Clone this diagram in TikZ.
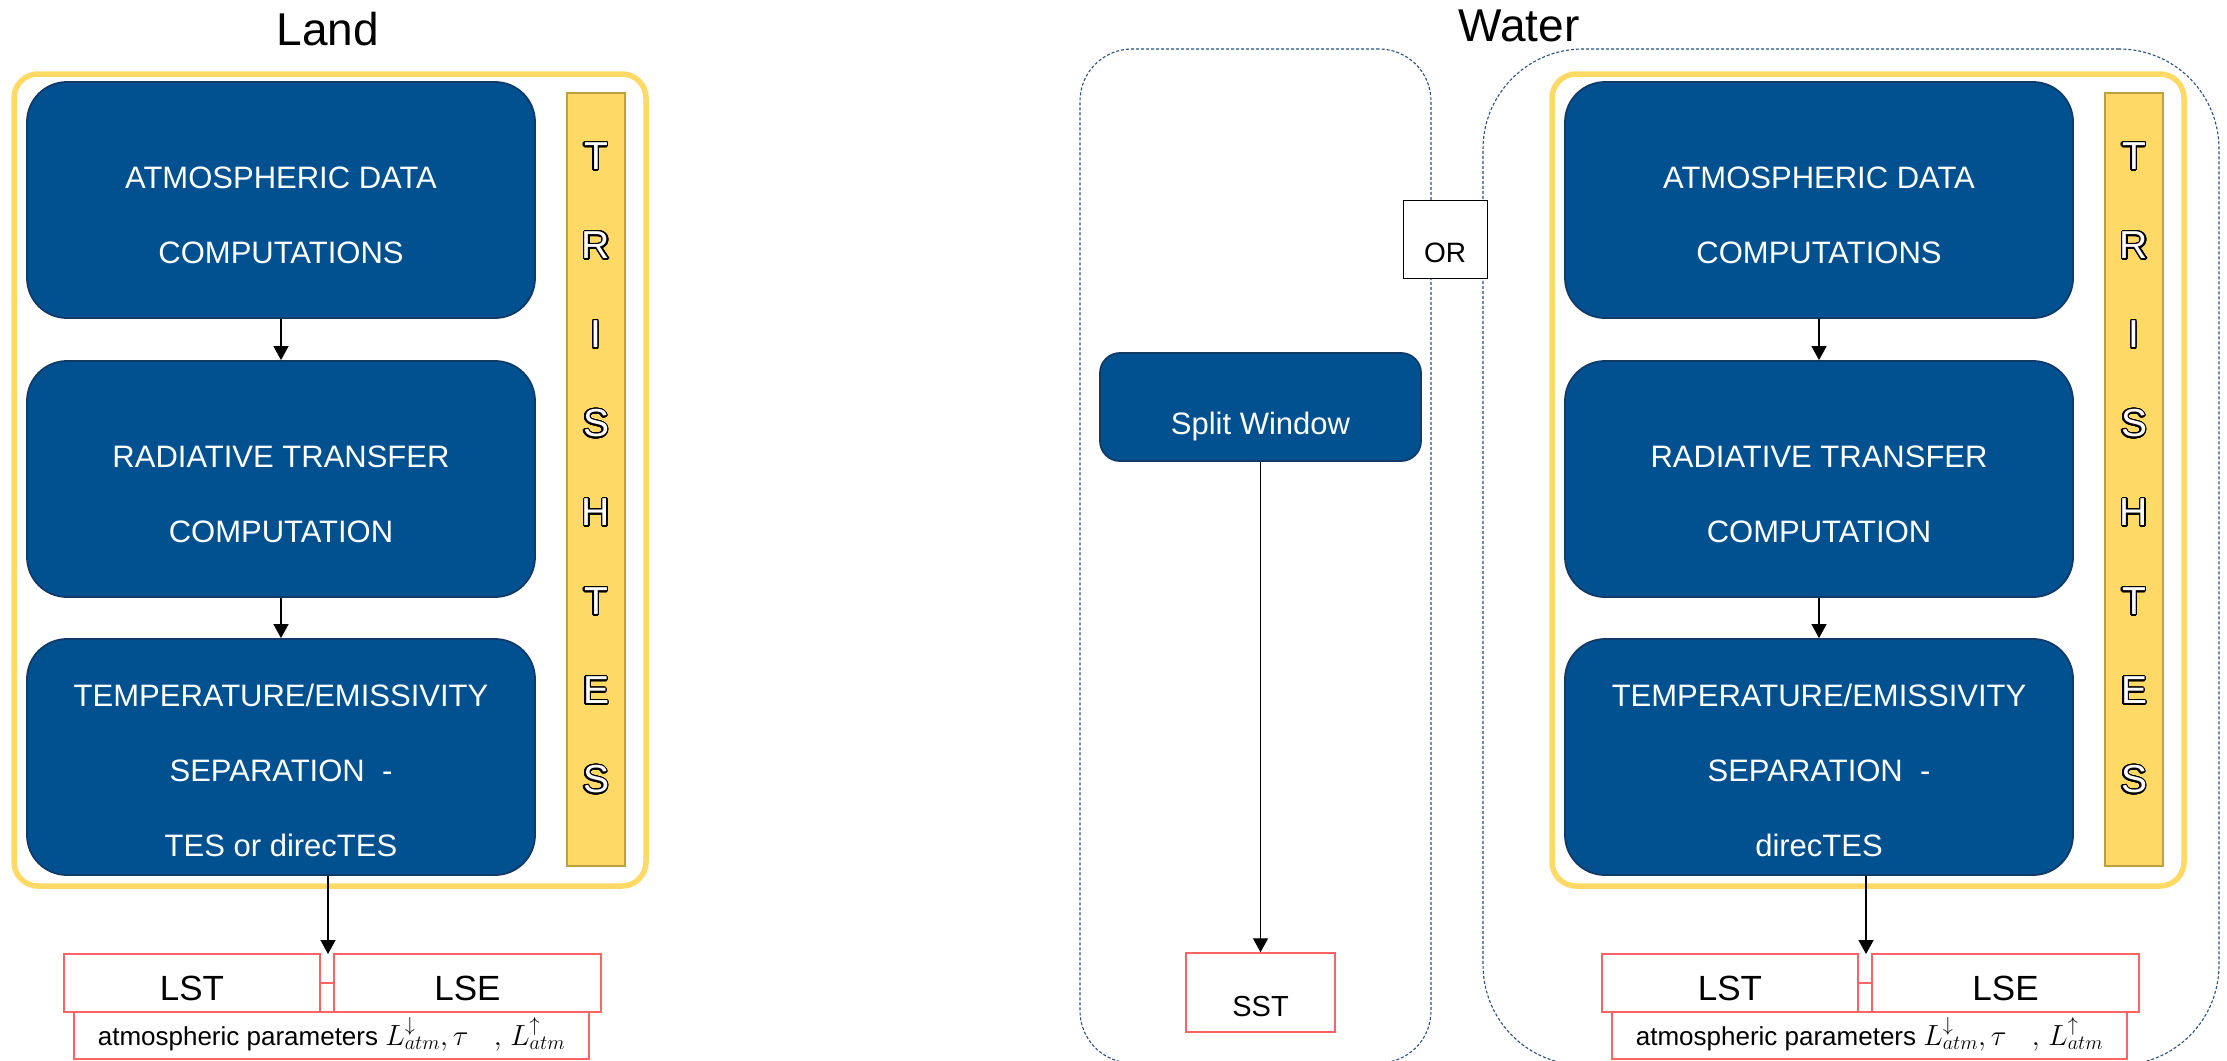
\documentclass[tikz,border=0pt]{standalone}
\usepackage{graphicx}
\usepackage{fontspec}
\setmainfont{Liberation Sans}
\usepackage{contour}
\contourlength{1.3pt}
\contournumber{24}
\usetikzlibrary{arrows.meta}
\definecolor{boxblue}{RGB}{1,81,145}
\definecolor{boxedge}{RGB}{18,58,105}
\definecolor{ylw}{RGB}{255,217,102}
\definecolor{ylwedge}{RGB}{191,160,64}
\definecolor{redl}{RGB}{255,99,99}
\definecolor{dashblue}{RGB}{40,80,130}
\newcommand{\olt}[1]{\contour{black}{#1}}
\newcommand{\atmpar}{atmospheric parameters \scalebox{1.17}{$L^{\downarrow}_{atm}, \tau\ \ \ {,}\ L^{\uparrow}_{atm}$}}
\begin{document}
\begin{tikzpicture}[x=1pt,y=-1pt,
  bluebox/.style={draw=boxedge, line width=1.8pt, fill=boxblue, rounded corners=40pt, minimum width=508pt, minimum height=236pt, inner sep=0pt},
  boxtext/.style={text=white, align=center, font=\fontsize{31}{75}\selectfont, inner sep=0pt},
  ybox/.style={draw=ylw, line width=5.5pt, rounded corners=24pt, minimum width=632pt, minimum height=812pt, inner sep=0pt},
  trishbar/.style={draw=ylwedge, line width=2.5pt, fill=ylw, minimum width=58pt, minimum height=773pt, inner sep=0pt},
  trishtext/.style={text=white, align=center, font=\fontsize{39}{89}\selectfont, inner sep=0pt},
  arr/.style={draw=black, line width=1.3pt, -{Triangle[width=15pt,length=14pt]}},
  redbox/.style={draw=redl, line width=1.5pt, fill=white, inner sep=0pt},
  redline/.style={draw=redl, line width=1.5pt},
  dashbox/.style={draw=dashblue, line width=1.1pt, dash pattern=on 3pt off 2pt, inner sep=0pt},
  title/.style={font=\fontsize{46}{55}\selectfont, inner sep=0pt, anchor=base},
  smallbox/.style={draw=boxedge, line width=1.8pt, fill=boxblue, rounded corners=20pt, inner sep=0pt, text=white},
]
\useasboundingbox (0,0) rectangle (2227,1060);

% titles
\node[title] (landt) at (328,45) {Land};
\node[title] (watert) at (1519,41) {Water};

% dashed water containers
\node[dashbox, rounded corners=52pt, minimum width=351pt, minimum height=1014pt] (wleft) at (1255.5,556) {};
\node[dashbox, rounded corners=100pt, minimum width=736pt, minimum height=1016pt] (wright) at (1851,557) {};
\node[draw=black, line width=1pt, fill=white, minimum width=84pt, minimum height=78pt, inner sep=0pt,
      font=\fontsize{28}{32}\selectfont, text height=46pt, text depth=0pt] (or) at (1445,239) {OR};

% ---------- Land ----------
\node[ybox] (lyel) at (330,480) {};
\node[bluebox] (lb1) at (281,200) {};
\node[bluebox] (lb2) at (281,479) {};
\node[bluebox] (lb3) at (281,757) {};
\node[boxtext] (lt1) at (281,215) {ATMOSPHERIC DATA\\COMPUTATIONS};
\node[boxtext] (lt2) at (281,494) {RADIATIVE TRANSFER\\COMPUTATION};
\node[boxtext] (lt3) at (281,770) {TEMPERATURE/EMISSIVITY\\SEPARATION\ \ -\\TES or direcTES};
\node[trishbar] (lbar) at (596,479.5) {};
\node[trishtext] (ltr) at (596,468.8) {\olt{T}\\\olt{R}\\\olt{I}\\\olt{S}\\\olt{H}\\\olt{T}\\\olt{E}\\\olt{S}};
\draw[arr] (lb1.south) -- (lb2.north);
\draw[arr] (lb2.south) -- (lb3.north);

\node[redbox, minimum width=515pt, minimum height=47pt, font=\fontsize{26}{30}\selectfont, text height=19pt, text depth=0pt] (lpar) at (331.5,1035.5) {\atmpar};
\node[redbox, minimum width=256pt, minimum height=58pt, font=\fontsize{35}{40}\selectfont, text height=34pt, text depth=0pt] (llst) at (192,983) {LST};
\node[redbox, minimum width=267pt, minimum height=58pt, font=\fontsize{35}{40}\selectfont, text height=34pt, text depth=0pt] (llse) at (467.5,983) {LSE};
\draw[redline] (llst.east) -- (llse.west);
\coordinate (lgap) at (328,954);
\draw[arr] (lb3.south -| lgap) -- (lgap);

% ---------- Water: split window ----------
\node[smallbox, minimum width=321pt, minimum height=108pt, font=\fontsize{31}{36}\selectfont, text height=54pt, text depth=0pt] (sw) at (1260.5,407) {Split Window};
\node[redbox, minimum width=149pt, minimum height=79pt, font=\fontsize{29}{34}\selectfont, text height=47pt, text depth=0pt] (sst) at (1260.5,992.5) {SST};
\draw[arr] (sw.south) -- (sst.north);

% ---------- Water: TRISHTES ----------
\node[ybox] (wyel) at (1868,480) {};
\node[bluebox] (wb1) at (1819,200) {};
\node[bluebox] (wb2) at (1819,479) {};
\node[bluebox] (wb3) at (1819,757) {};
\node[boxtext] (wt1) at (1819,215) {ATMOSPHERIC DATA\\COMPUTATIONS};
\node[boxtext] (wt2) at (1819,494) {RADIATIVE TRANSFER\\COMPUTATION};
\node[boxtext] (wt3) at (1819,770) {TEMPERATURE/EMISSIVITY\\SEPARATION\ \ -\\direcTES};
\node[trishbar] (wbar) at (2134,479.5) {};
\node[trishtext] (wtr) at (2134,468.8) {\olt{T}\\\olt{R}\\\olt{I}\\\olt{S}\\\olt{H}\\\olt{T}\\\olt{E}\\\olt{S}};
\draw[arr] (wb1.south) -- (wb2.north);
\draw[arr] (wb2.south) -- (wb3.north);

\node[redbox, minimum width=515pt, minimum height=47pt, font=\fontsize{26}{30}\selectfont, text height=19pt, text depth=0pt] (wpar) at (1869.5,1035.5) {\atmpar};
\node[redbox, minimum width=256pt, minimum height=58pt, font=\fontsize{35}{40}\selectfont, text height=34pt, text depth=0pt] (wlst) at (1730,983) {LST};
\node[redbox, minimum width=267pt, minimum height=58pt, font=\fontsize{35}{40}\selectfont, text height=34pt, text depth=0pt] (wlse) at (2005.5,983) {LSE};
\draw[redline] (wlst.east) -- (wlse.west);
\coordinate (wgap) at (1866,954);
\draw[arr] (wb3.south -| wgap) -- (wgap);
\end{tikzpicture}
\end{document}
